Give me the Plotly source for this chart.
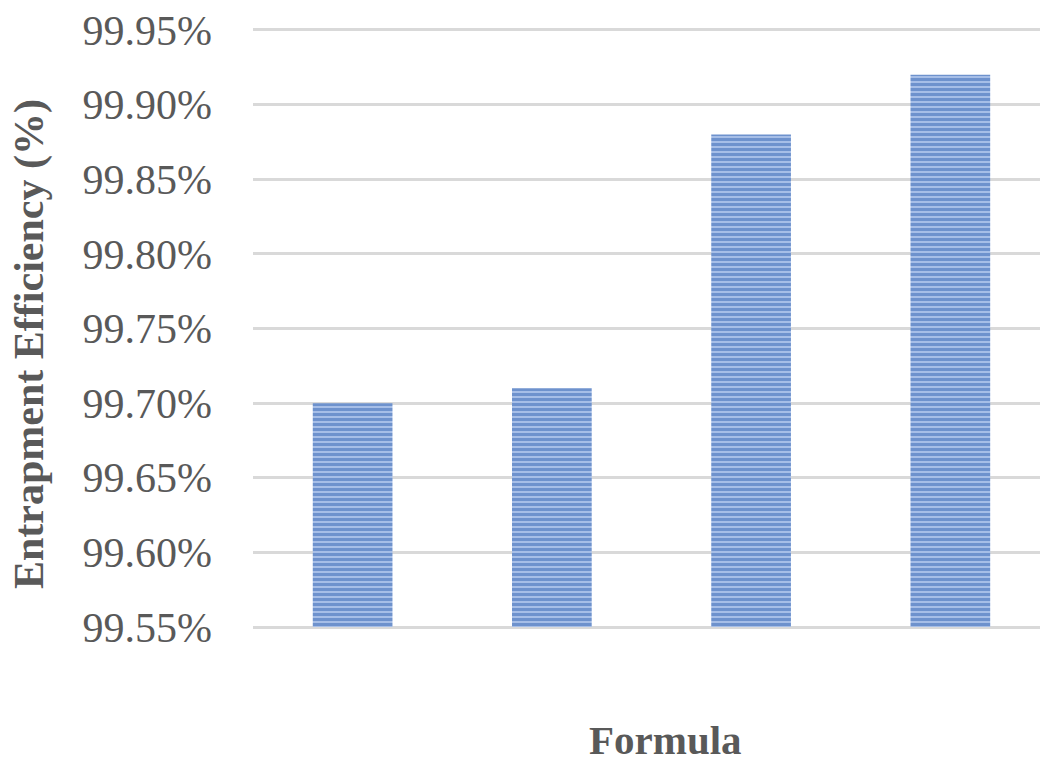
import plotly.graph_objects as go

# Entrapment efficiency of each formula (%)
formulas = ["F1", "F2", "F3", "F4"]
efficiency = [99.70, 99.71, 99.88, 99.92]
tick_values = [99.55, 99.60, 99.65, 99.70, 99.75, 99.80, 99.85, 99.90, 99.95]
tick_labels = ["99.55%", "99.60%", "99.65%", "99.70%", "99.75%",
               "99.80%", "99.85%", "99.90%", "99.95%"]

FONT = "Liberation Serif, Times New Roman, serif"
GREY = "#595959"
FLOOR = 99.55

fig = go.Figure(
    go.Bar(
        x=list(range(len(formulas))),
        y=[v - FLOOR for v in efficiency],
        base=FLOOR,
        width=0.4,
        marker=dict(
            color="#a6bee7",
            line=dict(width=0),
            pattern=dict(shape="-", fgcolor="#3565b4", size=5, solidity=0.6),
        ),
        hovertext=formulas,
    )
)

fig.update_layout(
    width=1040,
    height=762,
    margin=dict(l=253, r=0, t=27, b=132),
    paper_bgcolor="white",
    plot_bgcolor="white",
    showlegend=False,
    font=dict(family=FONT, color=GREY),
    xaxis=dict(
        range=[-0.5, 3.45],
        showticklabels=False,
        showgrid=False,
        zeroline=False,
        showline=False,
        ticks="",
    ),
    yaxis=dict(
        # padded so the first and last grid lines sit inside the plot area
        range=[99.548, 99.952],
        tickvals=tick_values,
        ticktext=tick_labels,
        tickfont=dict(family=FONT, size=42, color=GREY),
        ticklabelstandoff=40,
        showgrid=True,
        gridcolor="#d9d9d9",
        gridwidth=2.5,
        zeroline=False,
        showline=False,
        ticks="",
    ),
    annotations=[
        dict(
            text="<b>Entrapment Efficiency (%)</b>",
            xref="paper", yref="paper",
            x=(30 - 253) / 787, y=(630 - 344) / 603,
            xanchor="center", yanchor="middle",
            textangle=-90, showarrow=False,
            font=dict(family=FONT, size=42, color=GREY),
        ),
        dict(
            text="<b>Formula</b>",
            xref="paper", yref="paper",
            x=(665 - 253) / 787, y=(630 - 740) / 603,
            xanchor="center", yanchor="middle",
            showarrow=False,
            font=dict(family=FONT, size=41, color=GREY),
        ),
    ],
)

fig.write_html("out.html")
